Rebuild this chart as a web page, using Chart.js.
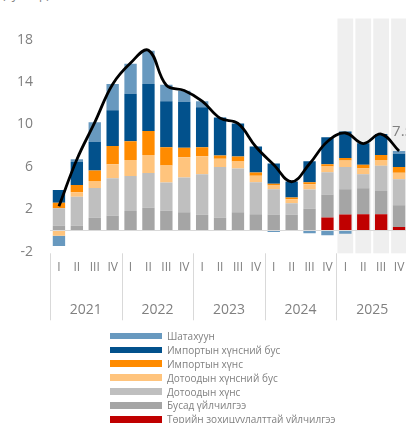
<!DOCTYPE html>
<html>
<head>
<meta charset="utf-8">
<script src="https://cdn.jsdelivr.net/npm/chart.js@4.4.1/dist/chart.umd.min.js"></script>
<style>
  body { margin: 0; width: 406px; height: 423px; overflow: hidden; background: #fff; font-family: "Open Sans", sans-serif; }
  #wrap { position: absolute; left: 0; top: 0; width: 410px; height: 330px; }
  #unit { position: absolute; left: 2px; top: -14px; font-size: 12px; color: #808080; }
  #legend { position: absolute; left: 110px; top: 329px; font-size: 10px; color: #808080; }
  #legend div { height: 13.9px; display: flex; align-items: center; white-space: nowrap; }
  #legend .box { display: inline-block; width: 52px; height: 6.5px; margin-right: 5px; }
</style>
</head>
<body>
<div id="unit">(хувиар)</div>
<div id="wrap"><canvas id="chart"></canvas></div>
<div id="legend"></div>
<script>
// categories
const years = ['2021', '2022', '2023', '2024', '2025'];
const quarters = [].concat(...years.map(() => ['I', 'II', 'III', 'IV']));
const shadedYear = '2025';
const yTicks = [-2, 0, 2, 6, 10, 14, 18];

// contributions, bottom of stack first
const regulated       = [0, 0, 0, 0,  0, 0, 0, 0,  0, 0, 0, 0,  0, 0, 0, 1.23,  1.51, 1.53, 1.53, 0.33];
const otherServices   = [0.45, 0.45, 1.2, 1.4,  1.84, 2.15, 1.86, 1.73,  1.48, 1.2, 1.73, 1.54,  1.51, 1.48, 2.05, 2.17,  2.39, 2.45, 2.2, 2.05];
const domesticFood    = [1.64, 2.74, 2.8, 3.52,  3.3, 3.27, 2.67, 3.27,  3.83, 4.78, 4.12, 3.02,  2.39, 1.1, 1.82, 2.1,  2.08, 1.32, 2.39, 2.45];
const domesticNonFood = [-0.5, 0.42, 0.66, 1.32,  1.51, 1.7, 1.6, 1.92,  1.7, 0.79, 0.66, 0.6,  0.35, 0.38, 0.5, 0.55,  0.63, 0.57, 0.54, 0.63];
const importFood      = [0.53, 0.69, 1.0, 1.73,  1.76, 2.26, 1.73, 0.89,  0.85, 0.31, 0.47, 0.31,  0.16, 0.16, 0.19, 0.19,  0.22, 0.34, 0.47, 0.53];
const importNonFood   = [1.2, 2.17, 2.7, 3.37,  4.5, 4.43, 4.34, 4.34,  3.77, 3.58, 3.11, 2.45,  1.92, 1.51, 1.98, 2.55,  2.52, 2.02, 1.98, 1.26];
const fuel            = [-0.95, 0.25, 1.86, 2.48,  2.83, 3.14, 1.55, 1.04,  0.57, 0, 0, 0,  -0.15, 0, -0.25, -0.45,  -0.3, 0, 0, 0.25];
// headline inflation
const inflation       = [2.3, 6.7, 10.2, 13.8,  15.8, 17.0, 13.7, 13.2,  12.2, 10.6, 10.1, 7.9,  6.2, 4.6, 6.3, 8.4,  9.2, 8.2, 9.1, 7.5];

const gray = '#808080';
Chart.defaults.font.family = '"Open Sans", sans-serif';
Chart.defaults.color = gray;

function bar(label, data, color) {
  return { type: 'bar', label, data, backgroundColor: color, borderWidth: 0, stack: 'cpi', order: 2,
           barPercentage: 0.69, categoryPercentage: 1 };
}

const yearOf = i => years[Math.floor(i / 4)];

// grey columns behind the latest year
const bands = {
  id: 'bands',
  beforeDraw(chart) {
    const { ctx, chartArea, scales: { x } } = chart;
    ctx.save();
    ctx.fillStyle = '#efefef';
    quarters.forEach((q, i) => {
      if (yearOf(i) !== shadedYear) return;
      const l = x.getPixelForValue(i - 0.44), r = x.getPixelForValue(i + 0.44);
      ctx.fillRect(l, chartArea.top, r - l, chartArea.bottom - chartArea.top);
    });
    ctx.restore();
  }
};

// year separators under the axis
const yearLines = {
  id: 'yearLines',
  afterDraw(chart) {
    const { ctx, chartArea, scales: { x2 } } = chart;
    ctx.save();
    ctx.strokeStyle = '#d9d9d9';
    ctx.lineWidth = 1;
    for (let i = 0; i <= years.length; i++) {
      const px = Math.round(x2.getPixelForValue(i - 0.5)) + 0.5;
      ctx.beginPath();
      ctx.moveTo(px, chartArea.bottom);
      ctx.lineTo(px, x2.bottom + 2);
      ctx.stroke();
    }
    ctx.restore();
  }
};

// value of the last point
const lastLabel = {
  id: 'lastLabel',
  afterDatasetsDraw(chart) {
    const idx = chart.data.datasets.findIndex(d => d.type === 'line');
    const pts = chart.getDatasetMeta(idx).data;
    const p = pts[pts.length - 1];
    const { ctx } = chart;
    ctx.save();
    ctx.font = '15px "Open Sans", sans-serif';
    ctx.fillStyle = gray;
    ctx.textAlign = 'left';
    ctx.textBaseline = 'bottom';
    ctx.fillText(inflation[inflation.length - 1].toFixed(1), p.x - 7, p.y - 12);
    ctx.restore();
  }
};

const chart = new Chart(document.getElementById('chart'), {
  data: {
    labels: quarters,
    datasets: [
      { type: 'line', label: 'Инфляци', data: inflation, borderColor: '#000', borderWidth: 2.8,
        pointRadius: 0, tension: 0.4, fill: false, stack: 'line', order: 1 },
      bar('Төрийн зохицуулалттай үйлчилгээ', regulated, '#c00000'),
      bar('Бусад үйлчилгээ', otherServices, '#a5a5a5'),
      bar('Дотоодын хүнс', domesticFood, '#bfbfbf'),
      bar('Дотоодын хүнсний бус', domesticNonFood, '#ffc47d'),
      bar('Импортын хүнс', importFood, '#ff8b00'),
      bar('Импортын хүнсний бус', importNonFood, '#02518c'),
      bar('Шатахуун', fuel, '#6899bf')
    ]
  },
  options: {
    responsive: true,
    maintainAspectRatio: false,
    animation: false,
    layout: { padding: { top: 18.5, right: 2, bottom: 11.7, left: 0 } },
    plugins: { legend: { display: false }, tooltip: { enabled: false } },
    scales: {
      x: {
        stacked: true,
        offset: true,
        weight: 0,
        afterFit: axis => { axis.height = 22; axis.paddingLeft = 0; axis.paddingRight = 0; },
        grid: { display: false, drawTicks: false },
        border: { display: false },
        ticks: { font: { size: 12 }, padding: 7, maxRotation: 0, autoSkip: false }
      },
      x2: {
        type: 'category',
        labels: years,
        position: 'bottom',
        offset: true,
        weight: 1,
        afterFit: axis => { axis.height = 43; axis.paddingLeft = 0; axis.paddingRight = 0; },
        grid: { display: false, drawTicks: false },
        border: { display: false },
        ticks: { font: { size: 14 }, padding: 26, maxRotation: 0 }
      },
      y: {
        stacked: true,
        min: -2.15,
        max: 20,
        afterBuildTicks: axis => { axis.ticks = yTicks.map(v => ({ value: v })); },
        afterFit: axis => { axis.width = 50; axis.paddingTop = 0; axis.paddingBottom = 0; },
        grid: { drawTicks: false, color: c => (c.tick && c.tick.value === 0 ? '#d9d9d9' : 'transparent') },
        border: { display: false },
        ticks: { font: { size: 14 }, padding: 17, callback: v => (v === 0 ? '' : v) }
      }
    }
  },
  plugins: [bands, yearLines, lastLabel]
});

// legend, one item per row, top of stack first
const legend = document.getElementById('legend');
chart.data.datasets.filter(d => d.type === 'bar').reverse().forEach(d => {
  const row = document.createElement('div');
  row.innerHTML = `<span class="box" style="background:${d.backgroundColor}"></span>${d.label}`;
  legend.appendChild(row);
});
</script>
</body>
</html>
